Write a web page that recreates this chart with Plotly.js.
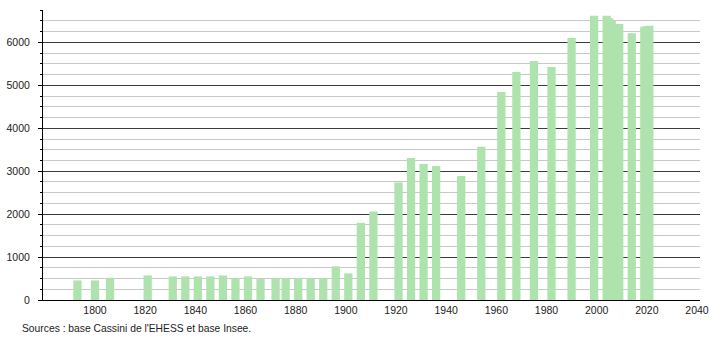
<!DOCTYPE html>
<html>
<head>
<meta charset="utf-8">
<script src="https://cdn.plot.ly/plotly-3.0.1.min.js"></script>
<style>html,body{margin:0;padding:0;background:#fff;}#chart{width:710px;height:340px;}</style>
</head>
<body>
<div id="chart"></div>
<script>
var years = [1793, 1800, 1806, 1821, 1831, 1836, 1841, 1846, 1851, 1856, 1861, 1866, 1872, 1876, 1881, 1886, 1891, 1896, 1901, 1906, 1911, 1921, 1926, 1931, 1936, 1946, 1954, 1962, 1968, 1975, 1982, 1990, 1999, 2004, 2005, 2006, 2007, 2008, 2009, 2014, 2019, 2020, 2021];
var population = [456, 456, 519, 572, 549, 549, 549, 549, 572, 512, 549, 488, 512, 512, 512, 512, 512, 782, 619, 1798, 2061, 2735, 3309, 3170, 3123, 2891, 3572, 4844, 5309, 5565, 5426, 6100, 6619, 6619, 6560, 6500, 6430, 6430, 6426, 6216, 6362, 6375, 6388];
var xTicks = [1800, 1820, 1840, 1860, 1880, 1900, 1920, 1940, 1960, 1980, 2000, 2020, 2040];
var yTicks = [0, 1000, 2000, 3000, 4000, 5000, 6000];
var sourceText = "Sources : base Cassini de l'EHESS et base Insee.";

var trace = {
  type: 'bar',
  x: years,
  y: population,
  width: 3.3,
  marker: {color: '#afe3ad', line: {width: 0}},
  hoverinfo: 'x+y'
};

var layout = {
  width: 710,
  height: 340,
  margin: {l: 43, r: 10, t: 10, b: 40},
  paper_bgcolor: '#ffffff',
  plot_bgcolor: '#ffffff',
  showlegend: false,
  font: {family: 'Liberation Sans, Arial, sans-serif', size: 11, color: '#222'},
  xaxis: {
    range: [1779.27, 2041.2],
    tickvals: xTicks,
    ticktext: xTicks.map(String),
    showgrid: false,
    zeroline: false,
    showline: true,
    linecolor: '#000',
    linewidth: 1,
    ticks: '',
    tickfont: {size: 10.5, color: '#222'}
  },
  yaxis: {
    range: [0, 6755],
    tickvals: yTicks,
    ticktext: yTicks.map(String),
    showgrid: true,
    gridcolor: '#3c3c3c',
    gridwidth: 1,
    zeroline: false,
    showline: true,
    linecolor: '#000',
    linewidth: 1,
    ticks: 'outside',
    ticklen: 4,
    tickcolor: '#000',
    ticklabelstandoff: 6,
    tickfont: {size: 10.5, color: '#222'},
    minor: {dtick: 250, showgrid: true, gridcolor: '#c8c8c8', gridwidth: 1, ticks: 'outside', ticklen: 2, tickcolor: '#000'}
  },
  annotations: [{
    text: sourceText,
    xref: 'paper', yref: 'paper',
    x: -23/657, y: -28/290,
    xanchor: 'left', yanchor: 'middle',
    showarrow: false,
    font: {size: 10.3, color: '#222'}
  }]
};

Plotly.newPlot('chart', [trace], layout, {staticPlot: true, displayModeBar: false});
</script>
</body>
</html>
